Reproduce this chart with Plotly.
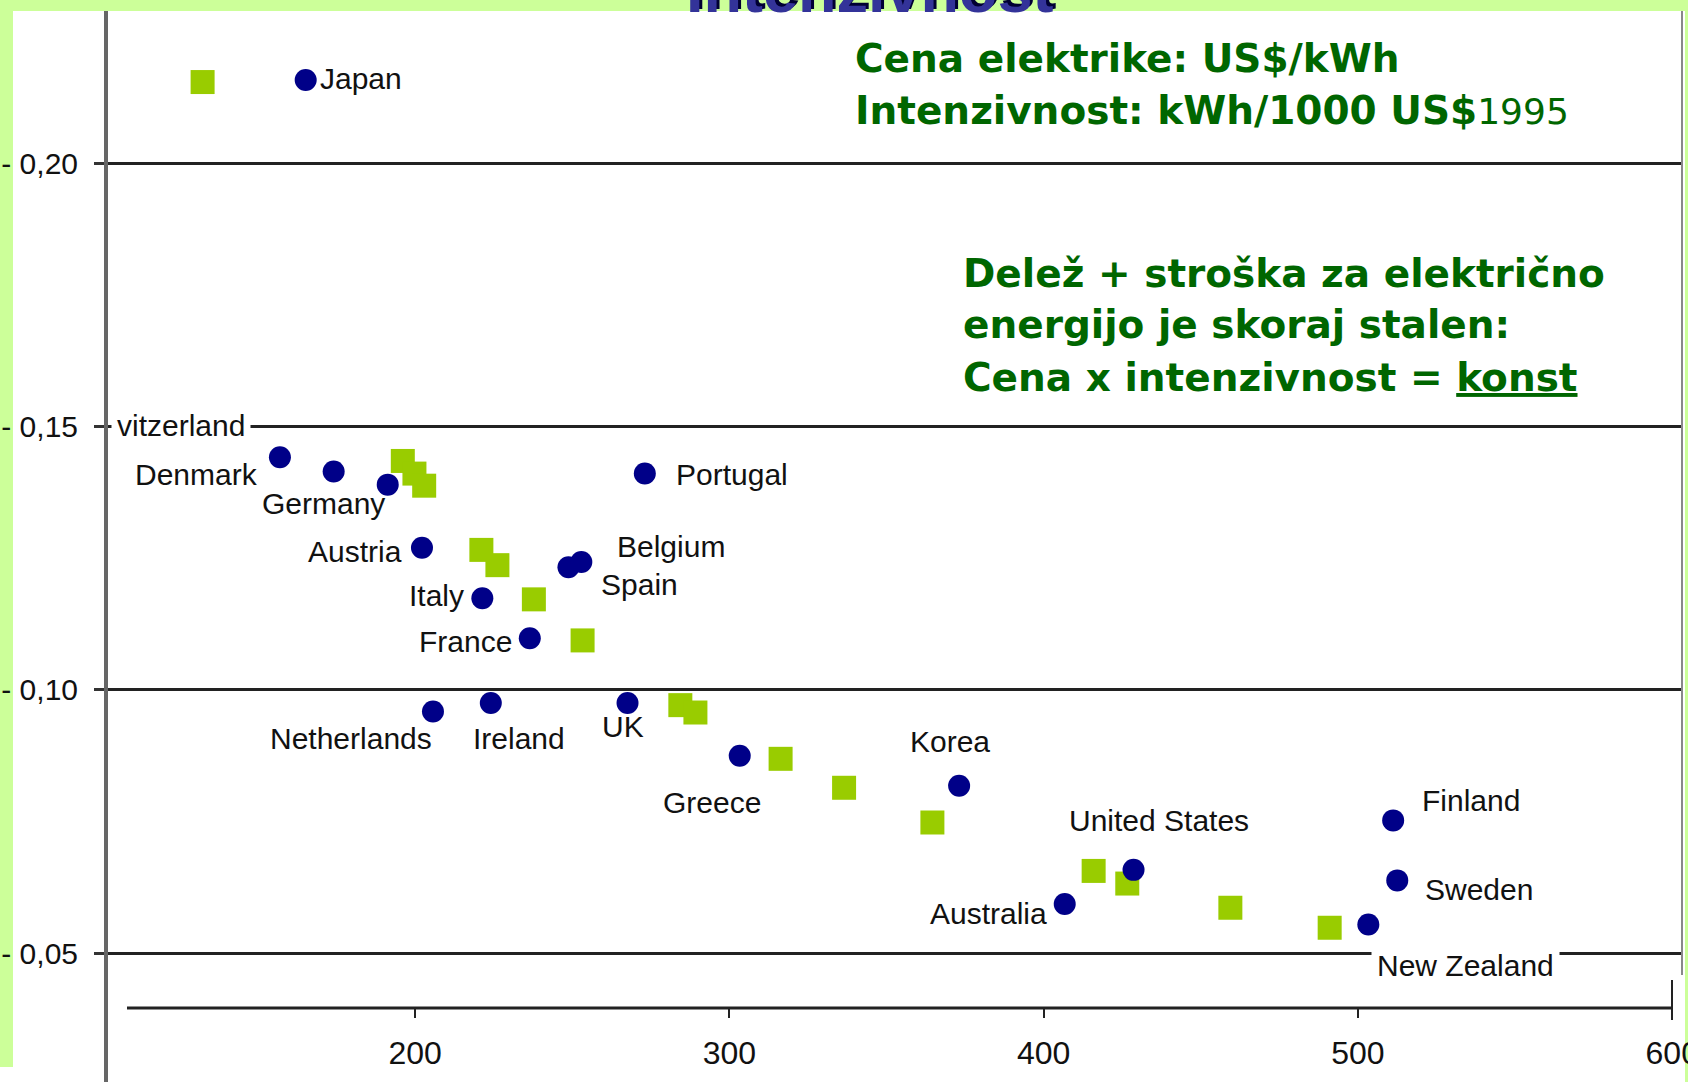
import plotly.graph_objects as go

# ---------------- data ----------------
countries = ["Japan", "Denmark", "Switzerland", "Germany", "Austria", "Italy", "France",
             "Spain", "Belgium", "Portugal", "Netherlands", "Ireland", "UK", "Greece",
             "Korea", "United States", "Australia", "Finland", "Sweden", "New Zealand"]
country_intensity = [165.2, 157.0, 174.1, 191.3, 202.2, 221.4, 236.5,
                     248.8, 252.9, 273.1, 205.7, 224.1, 267.6, 303.3,
                     373.1, 428.6, 406.7, 511.2, 512.5, 503.3]
country_price = [0.2159, 0.1442, 0.1415, 0.1390, 0.1270, 0.1174, 0.1098,
                 0.1233, 0.1243, 0.1411, 0.0959, 0.0975, 0.0975, 0.0875,
                 0.0818, 0.0658, 0.0593, 0.0752, 0.0638, 0.0554]

curve_intensity = [132.4, 196.1, 199.8, 202.9, 221.1, 226.2, 237.8, 253.3, 284.4,
                   289.2, 316.3, 336.5, 364.6, 415.9, 426.6, 459.4, 491.0]
curve_price = [0.2155, 0.1435, 0.1411, 0.1388, 0.1266, 0.1237, 0.1172, 0.1094, 0.0971,
               0.0957, 0.0869, 0.0814, 0.0748, 0.0656, 0.0632, 0.0586, 0.0548]

x_tickvals = [200, 300, 400, 500, 600]
x_ticktext = ["200", "300", "400", "500", "600"]
y_tickvals = [0.05, 0.10, 0.15, 0.20]
y_ticktext = ["- 0,05", "- 0,10", "- 0,15", "- 0,20"]

# label placement (style only): label text, xanchor, xshift, yshift, white background
label_style = {
    "Japan": ("Japan", "left", 12, 1, False),
    "Denmark": ("Denmark", "right", -20, -17, False),
    "Switzerland": ("vitzerland", "right", -83, 46, True),
    "Germany": ("Germany", "right", -1, -19, False),
    "Austria": ("Austria", "right", -18, -4, False),
    "Italy": ("Italy", "right", -16, 3, False),
    "France": ("France", "right", -16, -3, False),
    "Spain": ("Spain", "left", 31, -17, False),
    "Belgium": ("Belgium", "left", 34, 16, False),
    "Portugal": ("Portugal", "left", 29, -1, False),
    "Netherlands": ("Netherlands", "right", 1, -27, False),
    "Ireland": ("Ireland", "left", -20, -35, False),
    "UK": ("UK", "left", -28, -23, False),
    "Greece": ("Greece", "left", -79, -47, False),
    "Korea": ("Korea", "left", -51, 44, False),
    "United States": ("United States", "left", -67, 49, False),
    "Australia": ("Australia", "right", -16, -9, False),
    "Finland": ("Finland", "left", 27, 20, False),
    "Sweden": ("Sweden", "left", 26, -9, False),
    "New Zealand": ("New Zealand", "left", 3, -41, True),
}

W, H = 1688, 1082
ML, MR, MT, MB = 108, 6, 11, 0
PW, PH = W - ML - MR, H - MT - MB


def px_x(px):
    return (px - ML) / PW


def px_y(py):
    return (H - MB - py) / PH


LABEL_FONT = "Liberation Sans, Arial, sans-serif"
GREEN_TXT = "#006600"
BOX_FONT = "DejaVu Sans, Verdana, sans-serif"
BOX_SIZE = 39

fig = go.Figure()
fig.add_trace(go.Scatter(
    x=curve_intensity, y=curve_price, mode="markers",
    marker=dict(symbol="square", size=24, color="#99CC00", line=dict(width=0)),
    hoverinfo="skip", showlegend=False))
fig.add_trace(go.Scatter(
    x=country_intensity, y=country_price, mode="markers",
    marker=dict(symbol="circle", size=22, color="#000088", line=dict(width=0)),
    text=countries, hoverinfo="text", showlegend=False))

annotations = []
for c, xv, yv in zip(countries, country_intensity, country_price):
    txt, xa, xs, ys, bg = label_style[c]
    a = dict(x=xv, y=yv, xref="x", yref="y", text=txt, showarrow=False,
             xanchor=xa, yanchor="middle", xshift=xs, yshift=ys,
             font=dict(family=LABEL_FONT, size=30, color="#111111"))
    if bg:
        a["bgcolor"] = "white"
        a["borderpad"] = 5
    annotations.append(a)

# explanatory texts
annotations += [
    dict(x=px_x(853), y=px_y(59), xref="paper", yref="paper", xanchor="left", yanchor="middle",
         text="<b>Cena elektrike: US$/kWh</b>", showarrow=False,
         font=dict(family=BOX_FONT, size=BOX_SIZE, color=GREEN_TXT)),
    dict(x=px_x(853), y=px_y(110), xref="paper", yref="paper", xanchor="left", yanchor="middle",
         text="<b>Intenzivnost: kWh/1000 US$</b><span style='font-size:36px'>1995</span>",
         showarrow=False, font=dict(family=BOX_FONT, size=BOX_SIZE, color=GREEN_TXT)),
    dict(x=px_x(961), y=px_y(273), xref="paper", yref="paper", xanchor="left", yanchor="middle",
         text="<b>Delež + stroška za električno</b>", showarrow=False,
         font=dict(family=BOX_FONT, size=BOX_SIZE, color=GREEN_TXT)),
    dict(x=px_x(961), y=px_y(325), xref="paper", yref="paper", xanchor="left", yanchor="middle",
         text="<b>energijo je skoraj stalen:</b>", showarrow=False,
         font=dict(family=BOX_FONT, size=BOX_SIZE, color=GREEN_TXT)),
    dict(x=px_x(961), y=px_y(377), xref="paper", yref="paper", xanchor="left", yanchor="middle",
         text="<b>Cena x intenzivnost = <u>konst</u></b>", showarrow=False,
         font=dict(family=BOX_FONT, size=BOX_SIZE, color=GREEN_TXT)),
    # cut-off slide title (shadow + text)
    dict(x=px_x(873), y=px_y(24), xref="paper", yref="paper", xanchor="center", yanchor="bottom",
         text="<b>Intenzivnost</b>", showarrow=False,
         font=dict(family="Liberation Sans, Arial, sans-serif", size=63, color="#000033")),
    dict(x=px_x(870), y=px_y(27), xref="paper", yref="paper", xanchor="center", yanchor="bottom",
         text="<b>Intenzivnost</b>", showarrow=False,
         font=dict(family="Liberation Sans, Arial, sans-serif", size=63, color="#333399")),
]

shapes = [
    # white chart picture on the green slide
    dict(type="rect", xref="paper", yref="paper", x0=px_x(13), x1=px_x(1685), y0=-0.01, y1=1,
         fillcolor="white", line=dict(width=0), layer="below"),
    dict(type="rect", xref="paper", yref="paper", x0=px_x(-2), x1=px_x(14), y0=-0.01, y1=px_y(1067),
         fillcolor="white", line=dict(width=0), layer="below"),
    # right frame edge
    dict(type="line", xref="paper", yref="paper", x0=px_x(1682), x1=px_x(1682),
         y0=px_y(975), y1=1, line=dict(color="#888888", width=2)),
    # x axis line (starts a little right of the y axis, ends at 600)
    dict(type="line", xref="paper", yref="paper", x0=px_x(127), x1=px_x(1672),
         y0=px_y(1008), y1=px_y(1008), line=dict(color="#222222", width=3)),
    dict(type="line", xref="paper", yref="paper", x0=px_x(1672), x1=px_x(1672),
         y0=px_y(1020), y1=px_y(980), line=dict(color="#222222", width=2)),
]

fig.update_layout(
    width=W, height=H,
    margin=dict(l=ML, r=MR, t=MT, b=MB, pad=0, autoexpand=False),
    paper_bgcolor="#CCFF99",
    plot_bgcolor="rgba(0,0,0,0)",
    showlegend=False,
    annotations=annotations,
    shapes=shapes,
    xaxis=dict(range=[102.3, 603.1], anchor="free", position=px_y(1008), automargin=False,
               showgrid=False, zeroline=False, showline=False,
               ticks="outside", ticklen=9, tickwidth=2, tickcolor="#222222",
               tickvals=x_tickvals, ticktext=x_ticktext, ticklabelstandoff=8,
               ticklabeloverflow="allow",
               tickfont=dict(family=LABEL_FONT, size=32, color="#111111")),
    yaxis=dict(range=[0.02549, 0.2290], automargin=False,
               showgrid=True, gridcolor="#222222", gridwidth=3, zeroline=False,
               showline=True, linecolor="#666666", linewidth=4,
               ticks="outside", ticklen=10, tickwidth=3, tickcolor="#333333",
               tickvals=y_tickvals, ticktext=y_ticktext, ticklabelstandoff=10,
               tickfont=dict(family=LABEL_FONT, size=30, color="#111111")),
)

fig.write_html("out.html", config={"displayModeBar": False},
               post_script="document.body.style.margin='0px';")
